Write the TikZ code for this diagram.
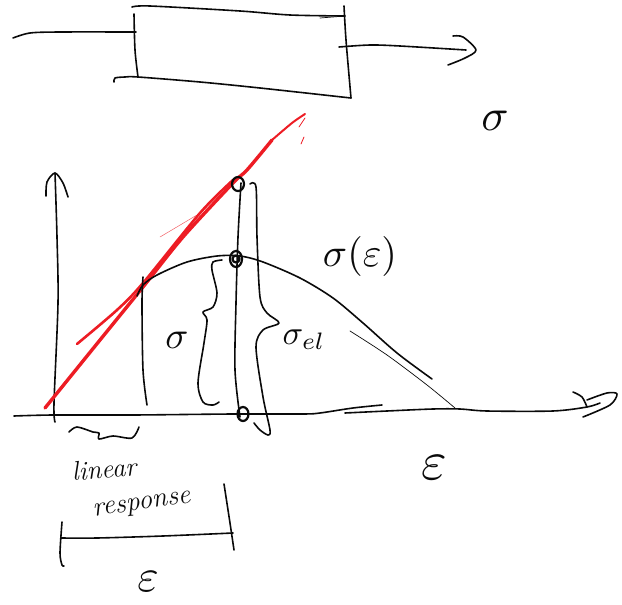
\documentclass[tikz,border=0pt]{standalone}
\usepackage{amsmath}
\definecolor{pen}{RGB}{10,10,10}
\definecolor{tangent}{RGB}{237,28,36}

\begin{document}
\begin{tikzpicture}[
    x=1pt, y=-1pt,
    stroke/.style={draw=pen, line width=1.6pt, line cap=round, line join=round},
    hair/.style={draw=pen, line width=0.7pt, line cap=round},
    ring/.style={draw=pen, line width=2.2pt},
    redstroke/.style={draw=tangent, line cap=round, line join=round},
    lbl/.style={text=pen, inner sep=0pt},
]
\useasboundingbox (0,0) rectangle (622,605);

% ══════════════════════════════════════
%  TOP: Block with input and output
% ══════════════════════════════════════

\draw[stroke] plot[smooth] coordinates {(132,7) (150,6) (240,11) (290,15) (345,16)};
\draw[hair] (320,18) -- (345,16);
\draw[stroke] plot[smooth] coordinates {(134,14) (135,50) (138,77)};
\draw[stroke] plot[smooth] coordinates {(344,6) (346,40) (351,98)};
\draw[stroke] plot[smooth] coordinates {(114,82) (115,78) (125,77) (138,77) (200,82) (260,88) (351,98)};

% Input line
\draw[stroke] plot[smooth] coordinates {(13,38) (30,33) (60,32) (136,32)};

% Output arrow
\draw[stroke] plot[smooth] coordinates {(339,47) (370,45) (400,46) (466,50)};
\draw[stroke] plot[smooth] coordinates {(453,36) (463,37) (476,50) (465,58) (448,65)};

\node[lbl, scale=4.5] (sigmaout) at (495,121) {$\sigma$};

% ══════════════════════════════════════
%  AXES
% ══════════════════════════════════════

% Vertical axis
\draw[stroke] plot[smooth] coordinates {(55,173) (57,237) (58,303) (54,403) (55,422)};
\draw[stroke] plot[smooth] coordinates {(46,196) (47,182) (55,173) (63,183) (68,197)};

% Horizontal axis, two strokes
\draw[stroke] plot[smooth] coordinates {(14,416) (53,415) (133,415) (233,414) (303,414) (320,413) (353,408) (382,405)};
\draw[stroke] plot[smooth] coordinates {(345,413) (387,411) (433,409) (460,409) (487,411) (553,411) (587,407) (600,403)};
\draw[stroke] plot[smooth] coordinates {(573,392) (582,397) (587,407)};
\draw[stroke] plot[smooth] coordinates {(587,400) (607,393) (617,394) (610,405) (583,417)};

% ══════════════════════════════════════
%  RED: Tangent strokes
% ══════════════════════════════════════

\draw[redstroke, line width=3.4pt] plot[smooth] coordinates {(45,408) (100,340) (143,287) (183,237) (233,183) (247,170) (272,140)};
\draw[redstroke, line width=2pt] plot[smooth] coordinates {(272,140) (292,123) (305,114)};
\draw[redstroke, line width=2.6pt] plot[smooth] coordinates {(77,344) (117,310) (143,283) (200,213) (233,180)};
\draw[redstroke, line width=0.5pt, opacity=0.7] (160,237) -- (197,215);
\draw[redstroke, line width=0.7pt] (299,127) -- (305,118);
\draw[redstroke, line width=0.8pt] (301,144) -- (304,137);

% ══════════════════════════════════════
%  CURVE
% ══════════════════════════════════════

\draw[stroke] plot[smooth] coordinates {(137,296) (143,285) (157,275) (187,262) (217,256) (240,256) (263,262) (300,278) (333,298) (363,323) (397,353) (432,379)};
\draw[hair] plot[smooth] coordinates {(350,331) (387,355) (427,385) (455,408)};
\node[lbl, scale=4] (sigmacurve) at (360,256) {$\sigma(\varepsilon)$};

% Verticals
\draw[stroke] plot[smooth] coordinates {(143,277) (142,303) (143,370) (147,405)};
\draw[stroke] plot[smooth] coordinates {(241,183) (238,237) (236,303) (235,370) (240,417)};

% Marks on the center line
\draw[ring] (238,184) ellipse (6 and 7);
\draw[ring] (236,259) ellipse (6 and 8);
\draw[ring] (236,259) ellipse (3.5 and 3.5);
\draw[ring] (243,414) ellipse (5.5 and 7);

% ══════════════════════════════════════
%  BRACES
% ══════════════════════════════════════

\draw[stroke] plot[smooth] coordinates {(222,260) (213,262) (212,270) (217,293) (213,307) (203,312) (207,320) (204,343) (198,383) (203,402) (213,405) (219,402)};
\node[lbl, scale=3.8] (sigmainner) at (177,340) {$\sigma$};

\draw[stroke] plot[smooth] coordinates {(250,184) (256,187) (257,237) (260,297) (267,313) (279,323) (263,330) (256,347) (263,397) (270,430) (268,435) (260,430) (254,423)};
\node[lbl, scale=3.4] (sigmael) at (304,340) {$\sigma_{el}$};

\node[lbl, scale=5.5] (epsright) at (434,468) {$\varepsilon$};

% ══════════════════════════════════════
%  BOTTOM: Linear response and range
% ══════════════════════════════════════

\draw[stroke] plot[smooth] coordinates {(69,432) (77,427) (93,432) (99,433) (99,439) (113,436) (132,438) (139,427)};

\node[lbl, rotate=5, scale=1.55, font=\itshape\LARGE] (linear) at (104,469) {linear};
\node[lbl, rotate=8, scale=1.6, font=\itshape\LARGE] (response) at (142,506) {response};

\draw[stroke] plot[smooth] coordinates {(61,538) (97,538) (163,536) (233,533)};
\draw[stroke] plot[smooth] coordinates {(62,522) (60,553) (62,565) (64,566)};
\draw[stroke] plot[smooth] coordinates {(224,484) (230,523) (234,550)};

\node[lbl, scale=4.6] (epsbottom) at (148,582) {$\varepsilon$};

\end{tikzpicture}
\end{document}
